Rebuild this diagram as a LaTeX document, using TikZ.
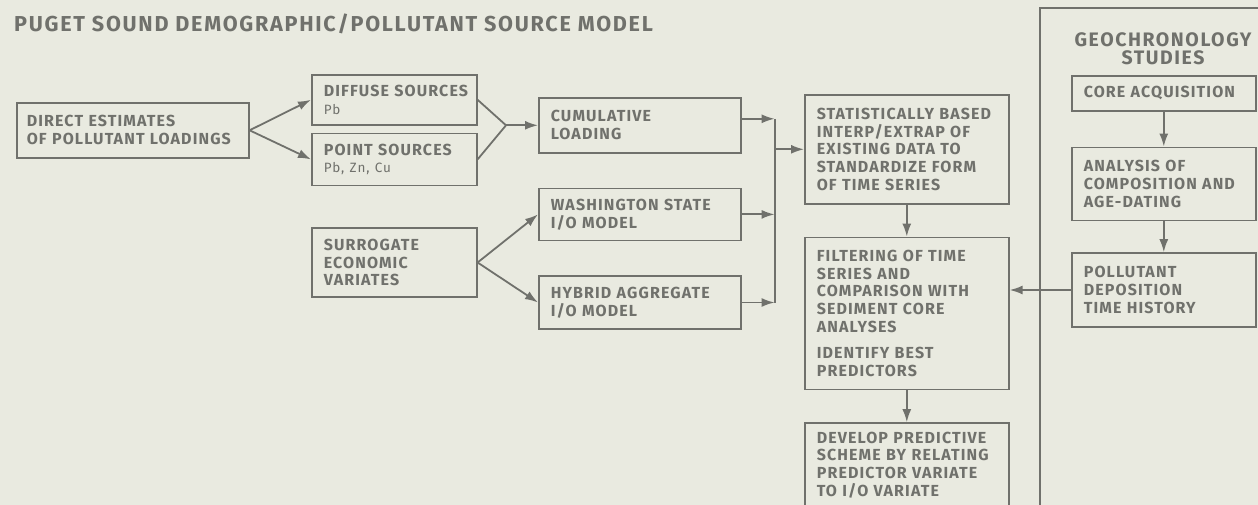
\documentclass[tikz,border=0pt]{standalone}
\usepackage{fontspec}
\setmainfont{Fira Sans}[LetterSpace=7]
\newfontfamily\headfont{Fira Sans}[LetterSpace=8]
\usetikzlibrary{positioning,arrows.meta,calc}
\definecolor{inkgray}{RGB}{112,113,108}
\definecolor{papergray}{RGB}{233,234,224}
\tikzstyle{gbox}=[rectangle, draw=inkgray, line width=1.6pt, text=inkgray,
                  align=left, inner xsep=12pt, inner ysep=0pt,
                  font=\fontsize{16}{17.7}\selectfont\bfseries]
\tikzstyle{srcbox}=[gbox, text width=141pt]
\tikzstyle{midbox}=[gbox, text width=178pt]
\tikzstyle{stdbox}=[gbox, text width=180pt]
\tikzstyle{geobox}=[gbox, text width=160pt]
\tikzstyle{pline}=[-, line width=1.8pt, draw=inkgray]
\tikzstyle{parrow}=[pline, -{Latex[length=13pt,width=9pt]}]
\begin{document}
\begin{tikzpicture}[x=1pt, y=-1pt, node distance=0mm]

\fill[papergray] (0,0) rectangle (1258,505);
\useasboundingbox (0,0) rectangle (1258,505);

\node (TITLE) [anchor=base west, inner sep=0pt, text=inkgray,
  font=\headfont\fontsize{21.6}{24}\selectfont\bfseries] at (14,32)
  {PUGET SOUND DEMOGRAPHIC/POLLUTANT SOURCE MODEL};

% sources column
\node (DIRECT) [gbox, text width=212pt, inner xsep=10pt, minimum height=55pt,
  anchor=north west] at (16,102) {DIRECT~ESTIMATES\\OF~POLLUTANT~LOADINGS};
\node (DIFFUSE) [srcbox, minimum height=50pt, anchor=north west] at (311,74)
  {DIFFUSE~SOURCES\\{\fontsize{13.5}{15}\selectfont\mdseries Pb}};
 \draw[parrow] (DIRECT.east) -- (DIFFUSE.west);
\node (POINT) [srcbox, minimum height=52pt, below=7pt of DIFFUSE]
  {POINT~SOURCES\\{\fontsize{13.5}{15}\selectfont\mdseries Pb, Zn, Cu}};
 \draw[parrow] (DIRECT.east) -- (POINT.west);
\node (SURR) [srcbox, minimum height=69pt, below=41pt of POINT]
  {SURROGATE\\ECONOMIC\\VARIATES};

% loading / I-O models
\node (CUMUL) [midbox, minimum height=55pt, anchor=north west] at (538,97)
  {CUMULATIVE\\LOADING};
\coordinate [left=32pt of CUMUL.west] (JOIN);
 \draw[pline] (DIFFUSE.east) -- (JOIN) -- (POINT.east);
 \draw[parrow] (JOIN) -- (CUMUL.west);
\node (WASH) [midbox, minimum height=52pt, below=34pt of CUMUL]
  {WASHINGTON~STATE\\I/O MODEL};
 \draw[parrow] (SURR.east) -- (WASH.west);
\node (HYBRID) [midbox, minimum height=53pt, below=34pt of WASH]
  {HYBRID~AGGREGATE\\I/O MODEL};
 \draw[parrow] (SURR.east) -- (HYBRID.west);

% time series column
\node (STAT) [stdbox, minimum height=109pt, anchor=north west] at (804,94)
  {STATISTICALLY~BASED\\INTERP/EXTRAP~OF\\EXISTING~DATA~TO\\STANDARDIZE~FORM\\OF TIME SERIES};
 \draw[parrow] ([yshift=6.5pt]CUMUL.east) -- ++(33,0) coordinate (BUSTOP);
 \draw[parrow] (WASH.east) -- (WASH.east -| BUSTOP);
 \draw[parrow] (HYBRID.east) -- (HYBRID.east -| BUSTOP) coordinate (BUSBOT);
 \draw[pline] (BUSTOP) -- (BUSBOT);
 \draw[parrow] (BUSTOP |- STAT.west) -- (STAT.west);
\node (FILTER) [stdbox, minimum height=152pt, below=32pt of STAT]
  {FILTERING~OF~TIME\\SERIES AND\\COMPARISON~WITH\\SEDIMENT~CORE\\ANALYSES\\[9pt]IDENTIFY~BEST\\PREDICTORS};
 \draw[parrow] (STAT.south) -- (FILTER.north);
\node (DEVELOP) [stdbox, minimum height=84pt, below=32pt of FILTER]
  {DEVELOP~PREDICTIVE\\SCHEME~BY~RELATING\\PREDICTOR~VARIATE\\TO~I/O~VARIATE};
 \draw[parrow] (FILTER.south) -- (DEVELOP.north);

% geochronology panel
\draw[pline] (1040,505) -- (1040,8) -- (1258,8);
\node (GEOHEAD) [anchor=north, align=center, inner sep=0pt, text=inkgray,
  font=\headfont\fontsize{19.5}{18.5}\selectfont\bfseries] at (1163,32)
  {GEOCHRONOLOGY\\STUDIES};
\node (CORE) [geobox, minimum height=35pt, anchor=north west] at (1071,75)
  {CORE~ACQUISITION};
\node (ANALYS) [geobox, minimum height=73pt, below=35pt of CORE]
  {ANALYSIS~OF\\COMPOSITION~AND\\AGE-DATING};
 \draw[parrow] (CORE.south) -- (ANALYS.north);
\node (POLDEP) [geobox, minimum height=74pt, below=31pt of ANALYS]
  {POLLUTANT\\DEPOSITION\\TIME~HISTORY};
 \draw[parrow] (ANALYS.south) -- (POLDEP.north);
 \draw[parrow] (POLDEP.west) -- (POLDEP.west -| FILTER.east);

\end{tikzpicture}
\end{document}
